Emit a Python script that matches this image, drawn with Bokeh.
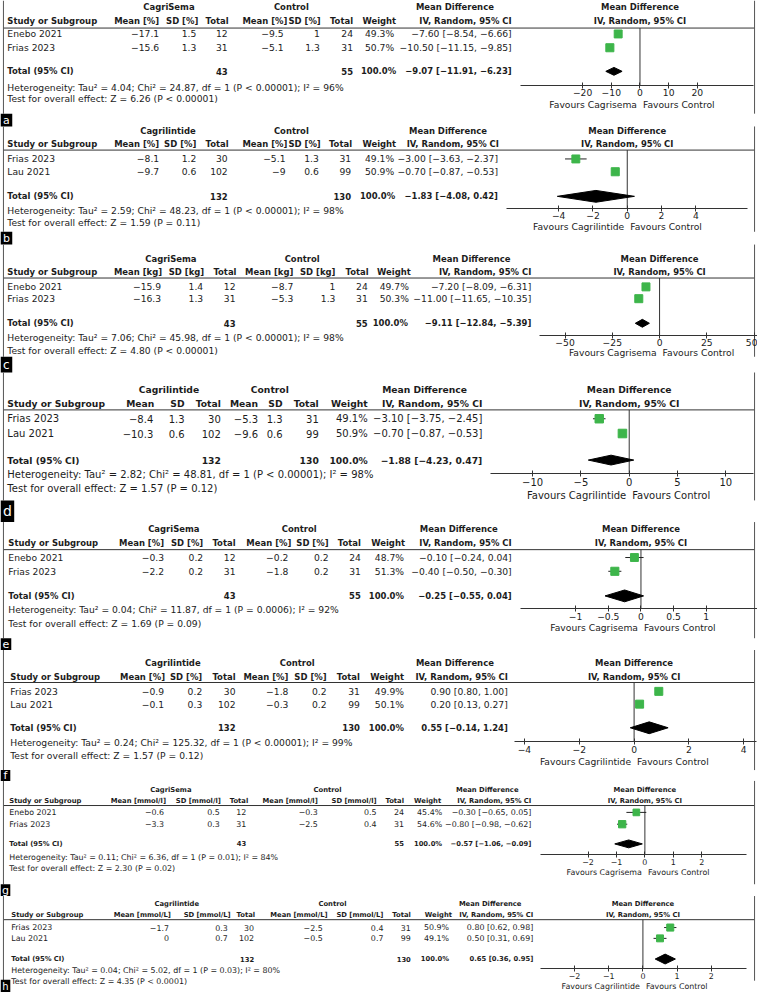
import math
from bokeh.plotting import figure
from bokeh.models import Range1d, LinearAxis, FixedTicker
from bokeh.core.properties import value
from bokeh.embed import file_html
from bokeh.resources import INLINE

MINUS = "\u2212"

# ================= DATA =================
# a: CagriSema vs control, body weight [%]
a_studies = ["Enebo 2021", "Frias 2023"]
a_exp_mean = [-17.1, -15.6]; a_exp_sd = [1.5, 1.3]; a_exp_n = [12, 31]
a_ctl_mean = [-9.5, -5.1]; a_ctl_sd = [1, 1.3]; a_ctl_n = [24, 31]
a_weight = [49.3, 50.7]
a_md = [-7.60, -10.50]; a_md_lo = [-8.54, -11.15]; a_md_hi = [-6.66, -9.85]
a_pooled = [-9.07, -11.91, -6.23]
a_total_n = [43, 55]
a_het = [4.04, 24.87, 1, "P < 0.00001", 96]
a_z = [6.26, "P < 0.00001"]
a_ticks = [-20, -10, 0, 10, 20]

# b: Cagrilintide vs control [%]
b_studies = ["Frias 2023", "Lau 2021"]
b_exp_mean = [-8.1, -9.7]; b_exp_sd = [1.2, 0.6]; b_exp_n = [30, 102]
b_ctl_mean = [-5.1, -9]; b_ctl_sd = [1.3, 0.6]; b_ctl_n = [31, 99]
b_weight = [49.1, 50.9]
b_md = [-3.00, -0.70]; b_md_lo = [-3.63, -0.87]; b_md_hi = [-2.37, -0.53]
b_pooled = [-1.83, -4.08, 0.42]
b_total_n = [132, 130]
b_het = [2.59, 48.23, 1, "P < 0.00001", 98]
b_z = [1.59, "P = 0.11"]
b_ticks = [-4, -2, 0, 2, 4]

# c: CagriSema vs control [kg]
c_studies = ["Enebo 2021", "Frias 2023"]
c_exp_mean = [-15.9, -16.3]; c_exp_sd = [1.4, 1.3]; c_exp_n = [12, 31]
c_ctl_mean = [-8.7, -5.3]; c_ctl_sd = [1, 1.3]; c_ctl_n = [24, 31]
c_weight = [49.7, 50.3]
c_md = [-7.20, -11.00]; c_md_lo = [-8.09, -11.65]; c_md_hi = [-6.31, -10.35]
c_pooled = [-9.11, -12.84, -5.39]
c_total_n = [43, 55]
c_het = [7.06, 45.98, 1, "P < 0.00001", 98]
c_z = [4.80, "P < 0.00001"]
c_ticks = [-50, -25, 0, 25, 50]

# d: Cagrilintide vs control
d_studies = ["Frias 2023", "Lau 2021"]
d_exp_mean = [-8.4, -10.3]; d_exp_sd = [1.3, 0.6]; d_exp_n = [30, 102]
d_ctl_mean = [-5.3, -9.6]; d_ctl_sd = [1.3, 0.6]; d_ctl_n = [31, 99]
d_weight = [49.1, 50.9]
d_md = [-3.10, -0.70]; d_md_lo = [-3.75, -0.87]; d_md_hi = [-2.45, -0.53]
d_pooled = [-1.88, -4.23, 0.47]
d_total_n = [132, 130]
d_het = [2.82, 48.81, 1, "P < 0.00001", 98]
d_z = [1.57, "P = 0.12"]
d_ticks = [-10, -5, 0, 5, 10]

# e: CagriSema vs control [%]
e_studies = ["Enebo 2021", "Frias 2023"]
e_exp_mean = [-0.3, -2.2]; e_exp_sd = [0.2, 0.2]; e_exp_n = [12, 31]
e_ctl_mean = [-0.2, -1.8]; e_ctl_sd = [0.2, 0.2]; e_ctl_n = [24, 31]
e_weight = [48.7, 51.3]
e_md = [-0.10, -0.40]; e_md_lo = [-0.24, -0.50]; e_md_hi = [0.04, -0.30]
e_pooled = [-0.25, -0.55, 0.04]
e_total_n = [43, 55]
e_het = [0.04, 11.87, 1, "P = 0.0006", 92]
e_z = [1.69, "P = 0.09"]
e_ticks = [-1, -0.5, 0, 0.5, 1]

# f: Cagrilintide vs control [%]
f_studies = ["Frias 2023", "Lau 2021"]
f_exp_mean = [-0.9, -0.1]; f_exp_sd = [0.2, 0.3]; f_exp_n = [30, 102]
f_ctl_mean = [-1.8, -0.3]; f_ctl_sd = [0.2, 0.2]; f_ctl_n = [31, 99]
f_weight = [49.9, 50.1]
f_md = [0.90, 0.20]; f_md_lo = [0.80, 0.13]; f_md_hi = [1.00, 0.27]
f_pooled = [0.55, -0.14, 1.24]
f_total_n = [132, 130]
f_het = [0.24, 125.32, 1, "P < 0.00001", 99]
f_z = [1.57, "P = 0.12"]
f_ticks = [-4, -2, 0, 2, 4]

# g: CagriSema vs control [mmol/l]
g_studies = ["Enebo 2021", "Frias 2023"]
g_exp_mean = [-0.6, -3.3]; g_exp_sd = [0.5, 0.3]; g_exp_n = [12, 31]
g_ctl_mean = [-0.3, -2.5]; g_ctl_sd = [0.5, 0.4]; g_ctl_n = [24, 31]
g_weight = [45.4, 54.6]
g_md = [-0.30, -0.80]; g_md_lo = [-0.65, -0.98]; g_md_hi = [0.05, -0.62]
g_pooled = [-0.57, -1.06, -0.09]
g_total_n = [43, 55]
g_het = [0.11, 6.36, 1, "P = 0.01", 84]
g_z = [2.30, "P = 0.02"]
g_ticks = [-2, -1, 0, 1, 2]

# h: Cagrilintide vs control [mmol/L]
h_studies = ["Frias 2023", "Lau 2021"]
h_exp_mean = [-1.7, 0]; h_exp_sd = [0.3, 0.7]; h_exp_n = [30, 102]
h_ctl_mean = [-2.5, -0.5]; h_ctl_sd = [0.4, 0.7]; h_ctl_n = [31, 99]
h_weight = [50.9, 49.1]
h_md = [0.80, 0.50]; h_md_lo = [0.62, 0.31]; h_md_hi = [0.98, 0.69]
h_pooled = [0.65, 0.36, 0.95]
h_total_n = [132, 130]
h_het = [0.04, 5.02, 1, "P = 0.03", 80]
h_z = [4.35, "P < 0.0001"]
h_ticks = [-2, -1, 0, 1, 2]

panel_keys = ["a", "b", "c", "d", "e", "f", "g", "h"]
exp_names = ["CagriSema", "Cagrilintide", "CagriSema", "Cagrilintide",
             "CagriSema", "Cagrilintide", "CagriSema", "Cagrilintide"]
units = ["[%]", "[%]", "[kg]", "", "[%]", "[%]", "[mmol/l]", "[mmol/L]"]
favours_left = ["Favours Cagrisema", "Favours Cagrilintide", "Favours Cagrisema", "Favours Cagrilintide",
                "Favours Cagrisema", "Favours Cagrilintide", "Favours Cagrisema", "Favours Cagrilintide"]
favours_right = "Favours Control"

# ================= LAYOUT (reference pixel coordinates) =================
W_REF, H_REF = 773, 1008
FONT = "DejaVu Sans"
TXT = "#1c1c1c"
GREEN = "#3db54a"
LINE = "#333333"

layouts = [
    dict(fs=9.2, bs=0.92, x0=7, grp=7, sub=21, line=28, rows=[34, 48], tot=72, het=88, test=100, axis=86, fav=106,
         ch=[162, 202, 233, 293, 327, 360, 404, 522], cv=[162, 200, 232, 289, 326, 360, 402, 522], tw=404,
         ec=172, cc=297, mc=464, zero=653, ppu=2.93, ax=(531, 769), dh=4, sq=8,
         span=(0, 115), lab=(115, 128, 12, 11)),
    dict(fs=9.2, bs=0.92, x0=7, grp=133, sub=146, line=152, rows=[161, 174], tot=199, het=213, test=226, axis=211, fav=230,
         ch=[162, 200, 233, 293, 327, 359, 404, 509], cv=[162, 200, 232, 291, 325, 358, 402, 508], tw=403,
         ec=171, cc=297, mc=457, zero=640, ppu=17.5, ax=(517, 763), dh=6, sq=8,
         span=(128, 235), lab=(235, 248, 12, 11)),
    dict(fs=9.2, bs=0.92, x0=7, grp=263, sub=276, line=282, rows=[291, 303], tot=328, het=342, test=356, axis=340, fav=358,
         ch=[165, 208, 241, 299, 342, 376, 419, 542], cv=[164, 207, 240, 299, 342, 375, 417, 542], tw=416,
         ec=174, cc=308, mc=481, zero=673, ppu=1.93, ax=(550, 790), dh=4, sq=8,
         span=(248, 362), lab=(362, 378, 12, 12)),
    dict(fs=10, bs=0.92, x0=7, grp=395, sub=409, line=416, rows=[425, 440], tot=467, het=482, test=496, axis=481, fav=503,
         ch=[157, 188, 225, 263, 288, 325, 375, 492], cv=[156, 188, 225, 263, 288, 325, 375, 492], tw=375,
         ec=172, cc=275, mc=433, zero=642, ppu=9.87, ax=(500, 769), dh=5, sq=8.5,
         span=(378, 508), lab=(508, 530, 14, 14)),
    dict(fs=9.2, bs=0.92, x0=8, grp=537, sub=551, line=558, rows=[566, 580], tot=605, het=619, test=633, axis=618, fav=637,
         ch=[167, 207, 240, 297, 335, 368, 413, 522], cv=[167, 207, 240, 294, 335, 368, 412, 522], tw=412,
         ec=177, cc=305, mc=468, zero=654, ppu=66.7, ax=(531, 773), dh=6, sq=8,
         span=(530, 648), lab=(648, 660, 11, 11)),
    dict(fs=9.2, bs=0.92, x0=10, grp=673, sub=687, line=693, rows=[702, 715], tot=739, het=754, test=767, axis=753, fav=773,
         ch=[168, 206, 240, 294, 333, 367, 412, 518], cv=[167, 206, 240, 294, 333, 367, 412, 518], tw=412,
         ec=176, cc=303, mc=464, zero=647, ppu=28.0, ax=(525, 772), dh=6, sq=8,
         span=(660, 782), lab=(782, 793, 10, 11)),
    dict(fs=7.9, bs=0.86, x0=9, grp=802, sub=813, line=818, rows=[825, 837], tot=857, het=871, test=882, axis=868, fav=886,
         ch=[169, 225, 253, 324, 384, 412, 450, 542], cv=[167, 224, 251, 324, 384, 412, 451, 542], tw=451,
         ec=174, cc=334, mc=497, zero=658, ppu=29.0, ax=(551, 762), dh=4, sq=7,
         span=(793, 898), lab=(898, 910, 10, 11)),
    dict(fs=7.9, bs=0.86, x0=11, grp=918, sub=929, line=934, rows=[942, 953], tot=974, het=986, test=997, axis=984, fav=1002,
         ch=[174, 235, 260, 334, 391, 419, 461, 544], cv=[172, 232, 259, 329, 391, 419, 458, 544], tw=458,
         ec=180, cc=339, mc=500, zero=656, ppu=34.9, ax=(551, 762), dh=5, sq=7,
         span=(910, 996), lab=(995, 1008, 10, 10)),
]

G = globals()


def num(v):
    return f"{v:g}".replace("-", MINUS)


def ci_text(md, lo, hi):
    return f"{md:.2f} [{lo:.2f}, {hi:.2f}]".replace("-", MINUS)


p = figure(width=757, height=992, x_range=Range1d(0, W_REF), y_range=Range1d(H_REF, 0),
           output_backend="svg", toolbar_location=None, x_axis_type=None, y_axis_type=None,
           min_border=0, outline_line_color=None)

# forest-plot scales: one extra x range per panel
extra = {}
for k, L in zip(panel_keys, layouts):
    z, ppu = L["zero"], L["ppu"]
    extra["f_" + k] = Range1d((0 - z) / ppu, (W_REF - z) / ppu)
p.extra_x_ranges = extra

texts = {}


def put(x, y, s, fs, align="left", bold=False, color=TXT):
    d = texts.setdefault((fs, align, bold, color), {"x": [], "y": [], "t": []})
    d["x"].append(x)
    d["y"].append(y)
    d["t"].append(s)


for i, (k, L) in enumerate(zip(panel_keys, layouts)):
    rn = "f_" + k
    fs = L["fs"]
    fsb = round(fs * L["bs"], 2)
    studies = G[k + "_studies"]
    em, esd, en = G[k + "_exp_mean"], G[k + "_exp_sd"], G[k + "_exp_n"]
    cm, csd, cn = G[k + "_ctl_mean"], G[k + "_ctl_sd"], G[k + "_ctl_n"]
    wt = G[k + "_weight"]
    md, lo, hi = G[k + "_md"], G[k + "_md_lo"], G[k + "_md_hi"]
    pooled = G[k + "_pooled"]
    tn = G[k + "_total_n"]
    het = G[k + "_het"]
    zt = G[k + "_z"]
    ticks = G[k + "_ticks"]
    u = units[i]
    ch, cv = L["ch"], L["cv"]

    # group headers
    put(L["ec"], L["grp"], exp_names[i], fsb, "center", True)
    put(L["cc"], L["grp"], "Control", fsb, "center", True)
    put(L["mc"], L["grp"], "Mean Difference", fsb, "center", True)
    # column headers
    put(L["x0"], L["sub"], "Study or Subgroup", fsb, "left", True)
    mean_h = ("Mean " + u).strip()
    sd_h = ("SD " + u).strip()
    for x, s in zip(ch, [mean_h, sd_h, "Total", mean_h, sd_h, "Total", "Weight", "IV, Random, 95% CI"]):
        put(x, L["sub"], s, fsb, "right", True)
    # study rows
    for j, st in enumerate(studies):
        y = L["rows"][j]
        put(L["x0"], y, st, fs)
        vals = [num(em[j]), num(esd[j]), str(en[j]), num(cm[j]), num(csd[j]), str(cn[j]),
                f"{wt[j]:.1f}%", ci_text(md[j], lo[j], hi[j])]
        for x, s in zip(cv, vals):
            put(x, y, s, fs, "right")
    # total row
    put(L["x0"], L["tot"], "Total (95% CI)", fsb, "left", True)
    put(cv[2], L["tot"], str(tn[0]), fsb, "right", True)
    put(cv[5], L["tot"], str(tn[1]), fsb, "right", True)
    put(L["tw"], L["tot"], f"{sum(wt):.1f}%", fsb, "right", True)
    put(cv[7], L["tot"], ci_text(*pooled), fsb, "right", True)
    # heterogeneity + overall effect
    put(L["x0"], L["het"],
        f"Heterogeneity: Tau\u00b2 = {het[0]:.2f}; Chi\u00b2 = {het[1]:.2f}, df = {het[2]} ({het[3]}); I\u00b2 = {het[4]}%",
        fs)
    put(L["x0"], L["test"], f"Test for overall effect: Z = {zt[0]:.2f} ({zt[1]})", fs)

    # header rule
    p.segment(x0=[3], x1=[770], y0=[L["line"]], y1=[L["line"]], line_color=LINE, line_width=1)

    # forest header (centred on the zero line)
    for yy, s in [(L["grp"], "Mean Difference"), (L["sub"], "IV, Random, 95% CI")]:
        p.text(x=[0], y=[yy], text=[s], x_range_name=rn, text_font=value(FONT),
               text_font_size=value(f"{fsb}px"), text_font_style="bold", text_align="center",
               text_baseline="middle", text_color=TXT)

    # zero line
    p.segment(x0=[0], x1=[0], y0=[L["line"]], y1=[L["axis"]], x_range_name=rn,
              line_color=LINE, line_width=1)
    # CI whiskers + weighted squares
    p.segment(x0=lo, x1=hi, y0=L["rows"], y1=L["rows"], x_range_name=rn, line_color="#222222", line_width=1)
    p.scatter(x=md, y=L["rows"], x_range_name=rn, marker="square",
              size=[L["sq"] * math.sqrt(w / 50.0) for w in wt],
              fill_color=GREEN, line_color=GREEN)
    # pooled diamond
    ty, dh = L["tot"], L["dh"]
    p.patch(x=[pooled[1], pooled[0], pooled[2], pooled[0]], y=[ty, ty - dh, ty, ty + dh],
            x_range_name=rn, fill_color="black", line_color="black")

    # axis of the forest plot
    z, ppu = L["zero"], L["ppu"]
    ax = LinearAxis(x_range_name=rn, ticker=FixedTicker(ticks=ticks),
                    bounds=((L["ax"][0] - z) / ppu, (L["ax"][1] - z) / ppu),
                    fixed_location=L["axis"],
                    major_label_overrides={t: num(t) for t in ticks},
                    axis_line_color=LINE, major_tick_line_color=LINE,
                    minor_tick_line_color=None, major_tick_in=3, major_tick_out=3,
                    major_label_standoff=1, major_label_text_font=FONT,
                    major_label_text_font_size=f"{fs}px", major_label_text_color=TXT)
    p.add_layout(ax, "below")

    # favours labels
    p.text(x=[0], y=[L["fav"]], text=[favours_left[i]], x_range_name=rn, x_offset=-3,
           text_font=value(FONT), text_font_size=value(f"{fs}px"), text_align="right",
           text_baseline="middle", text_color=TXT)
    p.text(x=[0], y=[L["fav"]], text=[favours_right], x_range_name=rn, x_offset=3,
           text_font=value(FONT), text_font_size=value(f"{fs}px"), text_align="left",
           text_baseline="middle", text_color=TXT)

    # panel border (sides) and letter tag
    s0, s1 = L["span"]
    p.segment(x0=[3, 770], x1=[3, 770], y0=[s0, s0], y1=[s1, s1], line_color="#555555", line_width=1)
    t0, t1, tw_, tfs = L["lab"]
    p.quad(left=[0], right=[tw_], top=[t0], bottom=[t1], fill_color="black", line_color=None)
    put(tw_ / 2.0, (t0 + t1) / 2.0, k, tfs, "center", False, "white")

for (fs, align, bold, color), d in texts.items():
    p.text(x=d["x"], y=d["y"], text=d["t"], text_font=value(FONT), text_font_size=value(f"{fs}px"),
           text_font_style="bold" if bold else "normal", text_align=align, text_baseline="middle",
           text_color=color)

open("out.html", "w").write(file_html(p, INLINE))
